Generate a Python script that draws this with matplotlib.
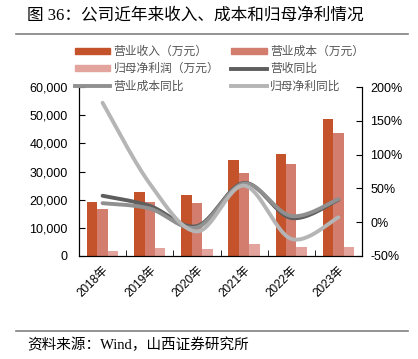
import numpy as np
import matplotlib
matplotlib.use("Agg")
import matplotlib.pyplot as plt
from matplotlib.patches import Patch
from matplotlib.lines import Line2D
from matplotlib.ticker import FuncFormatter, FixedLocator

plt.rcParams['font.family'] = ['Liberation Sans', 'Noto Sans CJK SC']

years = ['2018年', '2019年', '2020年', '2021年', '2022年', '2023年']
revenue = [19000, 22700, 21600, 34200, 36200, 48800]
cost = [16600, 19300, 18600, 29300, 32600, 43700]
profit = [1700, 2900, 2400, 4200, 3000, 3200]
revenue_yoy = [39, 24, -6, 58, 6, 33]
cost_yoy = [28, 20, -8, 57, 9, 34]
profit_yoy = [177, 57, -14, 54, -25, 7]

c_rev = '#C4522A'
c_cost = '#D27D6E'
c_prof = '#E2A49C'
c_ryoy = '#5E5E5E'
c_cyoy = '#909090'
c_pyoy = '#B5B5B5'


def smooth(x, y, n=30):
    # catmull-rom like Excel smoothed lines
    x = np.asarray(x, float)
    y = np.asarray(y, float)
    px = np.concatenate([[x[0]], x, [x[-1]]])
    py = np.concatenate([[y[0]], y, [y[-1]]])
    xs, ys = [], []
    t = np.linspace(0, 1, n)
    for i in range(1, len(px) - 2):
        p0, p1, p2, p3 = [np.array([px[j], py[j]]) for j in (i - 1, i, i + 1, i + 2)]
        c1 = p1 + (p2 - p0) / 6
        c2 = p2 - (p3 - p1) / 6
        pts = ((1 - t) ** 3)[:, None] * p1 + (3 * (1 - t) ** 2 * t)[:, None] * c1 \
            + (3 * (1 - t) * t ** 2)[:, None] * c2 + (t ** 3)[:, None] * p2
        xs.append(pts[:, 0])
        ys.append(pts[:, 1])
    return np.concatenate(xs), np.concatenate(ys)


fig = plt.figure(figsize=(4.18, 3.59), dpi=100)
ax = fig.add_axes([79 / 418, 1 - 255.7 / 359, 283 / 418, 168.4 / 359])

x = np.arange(len(years))
w = 0.222
ax.bar(x - w, revenue, w, color=c_rev, zorder=2)
ax.bar(x, cost, w, color=c_cost, zorder=2)
ax.bar(x + w, profit, w, color=c_prof, zorder=2)

ax.set_xlim(-0.5, 5.5)
ax.set_ylim(0, 60000)
ax.set_yticks(np.arange(0, 60001, 10000))
ax.yaxis.set_major_formatter(FuncFormatter(lambda v, p: f'{int(v):,}'))
ax.set_xticks(x)
ax.set_xticklabels(years, rotation=45, ha='right', rotation_mode='anchor')
ax.xaxis.set_minor_locator(FixedLocator([0.5, 1.5, 2.5, 3.5, 4.5]))
ax.tick_params(axis='x', which='major', length=0, pad=6, labelsize=8.5)
ax.tick_params(axis='x', which='minor', direction='in', length=4)
ax.tick_params(axis='y', direction='in', length=4, labelsize=9, pad=8)
ax.spines['top'].set_visible(False)

ax2 = ax.twinx()
ax2.set_ylim(-50, 200)
ax2.set_yticks(np.arange(-50, 201, 50))
ax2.yaxis.set_major_formatter(FuncFormatter(lambda v, p: f'{int(v)}%'))
ax2.tick_params(axis='y', direction='in', length=4, labelsize=9, pad=6)
ax2.spines['top'].set_visible(False)

for ys, col in [(revenue_yoy, c_ryoy), (cost_yoy, c_cyoy), (profit_yoy, c_pyoy)]:
    sx, sy = smooth(x, ys)
    ax2.plot(sx, sy, color=col, lw=2.8, solid_capstyle='round', zorder=3)

handles = [Patch(color=c_rev), Patch(color=c_cost), Patch(color=c_prof),
           Line2D([], [], color=c_ryoy, lw=2.8), Line2D([], [], color=c_cyoy, lw=2.8),
           Line2D([], [], color=c_pyoy, lw=2.8)]
labels = ['营业收入（万元）', '营业成本（万元）', '归母净利润（万元）', '营收同比', '营业成本同比', '归母净利同比']
# matplotlib fills columns first; reorder for row-wise layout
order = [0, 2, 4, 1, 3, 5]
leg = fig.legend([handles[i] for i in order], [labels[i] for i in order], ncol=2,
                 loc='upper center', bbox_to_anchor=(0.525, 1 - 40 / 359), frameon=False,
                 fontsize=8.5, handlelength=3.0, handleheight=0.45, handletextpad=0.3,
                 columnspacing=1.0, labelspacing=0.45, borderpad=0)
for t in leg.get_texts():
    t.set_color('#555555')

fig.text(27 / 418, 1 - 16 / 359, '图 36：公司近年来收入、成本和归母净利情况', fontsize=12,
         family=['Liberation Serif', 'Noto Sans CJK SC'], va='center')
fig.text(27 / 418, 1 - 345 / 359, '资料来源：Wind，山西证券研究所', fontsize=10.5,
         family=['Liberation Serif', 'Noto Sans CJK SC'], va='center')
fig.add_artist(Line2D([16 / 418, 408 / 418], [1 - 34 / 359, 1 - 34 / 359], color='#808080', lw=1.2))
fig.add_artist(Line2D([16 / 418, 408 / 418], [1 - 330.5 / 359, 1 - 330.5 / 359], color='#808080', lw=1.2))

fig.savefig('out.png', dpi=100)
